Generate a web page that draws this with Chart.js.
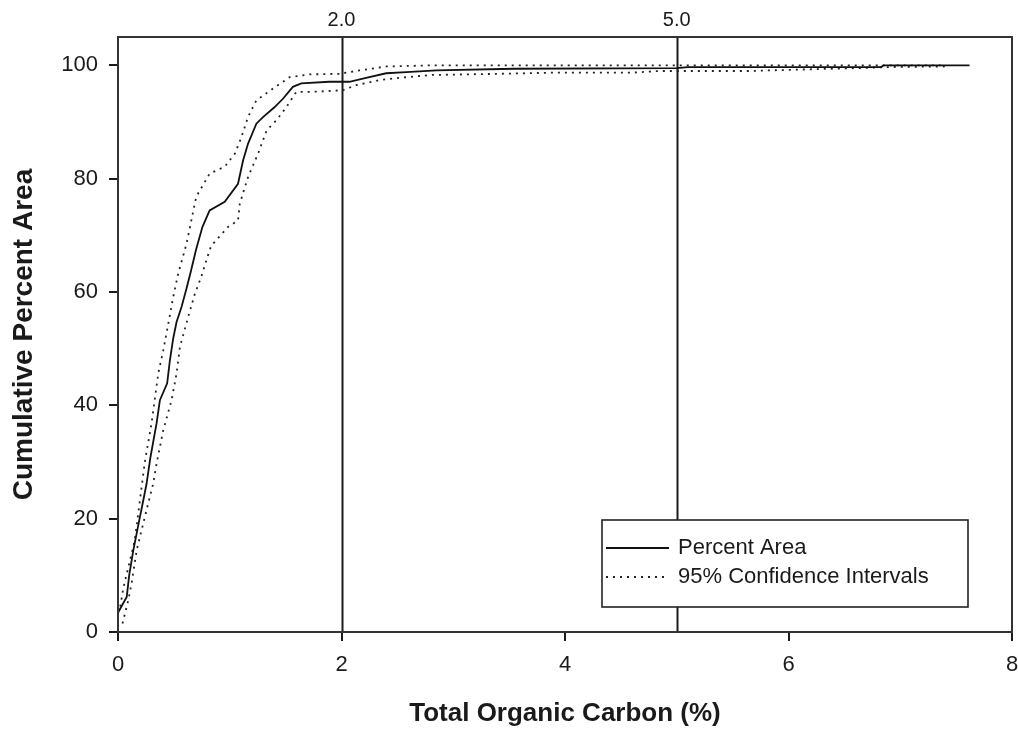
<!DOCTYPE html>
<html>
<head>
<meta charset="utf-8">
<title>Total Organic Carbon - Cumulative Percent Area</title>
<script src="https://cdn.jsdelivr.net/npm/chart.js@4.4.1/dist/chart.umd.min.js"></script>
<style>
  html, body { margin: 0; padding: 0; background: #fff; }
  #wrap { width: 1018px; height: 736px; }
</style>
</head>
<body>
<div id="wrap"><canvas id="tocChart" width="1018" height="736"></canvas></div>
<script>
// Cumulative distribution of total organic carbon (%)
const tocMain = [0, 0.078, 0.10, 0.137, 0.19, 0.226, 0.256, 0.29, 0.345, 0.375, 0.44, 0.464, 0.494, 0.524,
  0.569, 0.613, 0.65, 0.70, 0.756, 0.82, 0.955, 1.074, 1.119, 1.164, 1.238, 1.30, 1.40, 1.476, 1.565, 1.64,
  1.89, 2.07, 2.22, 2.40, 2.58, 2.85, 3.54, 5.0, 5.1, 6.83, 6.85, 7.62];
const pctMain = [3.4, 6.2, 10, 14.4, 19.7, 23.2, 26.2, 30.8, 36.8, 40.9, 43.9, 47.9, 51.8, 54.7,
  57.4, 60.6, 63.5, 67.6, 71.5, 74.4, 75.9, 79.1, 83.2, 86.2, 89.7, 90.9, 92.6, 94.1, 96.2, 96.8,
  97.1, 97.1, 97.8, 98.6, 98.8, 99.1, 99.4, 99.5, 99.7, 99.7, 100, 100];

const tocUpper = [0.02, 0.047, 0.15, 0.196, 0.24, 0.30, 0.36, 0.405, 0.45, 0.494, 0.538, 0.613, 0.70, 0.82,
  0.955, 1.045, 1.104, 1.164, 1.238, 1.387, 1.536, 1.714, 1.98, 2.16, 2.40, 2.82, 5.0, 7.4];
const pctUpper = [4.5, 7.7, 16.2, 23.2, 30.0, 36.8, 45.6, 49.7, 54.4, 59.1, 63.2, 68.5, 76.8, 80.9,
  82.1, 84.4, 87.3, 90.9, 93.8, 95.9, 97.9, 98.4, 98.5, 99.1, 99.8, 100, 100, 100];

const tocLower = [0.04, 0.092, 0.122, 0.167, 0.24, 0.315, 0.345, 0.405, 0.479, 0.524, 0.554, 0.628, 0.688,
  0.747, 0.82, 0.836, 0.985, 1.074, 1.09, 1.164, 1.253, 1.33, 1.417, 1.506, 1.595, 1.714, 2.01, 2.13, 2.34,
  2.52, 2.81, 3.41, 3.86, 4.6, 4.84, 5.64, 6.38, 6.6, 6.89, 7.4];
const pctLower = [1.5, 5.6, 8.6, 14.4, 20.3, 26.2, 29.7, 35.6, 40.9, 45.6, 50.3, 55.6, 59.7,
  62.8, 67.4, 68.2, 71.5, 72.6, 75.6, 80.3, 84.4, 88.5, 90.3, 92.6, 95.3, 95.3, 95.6, 96.5, 97.4,
  97.8, 98.3, 98.5, 98.7, 98.7, 99.0, 99.0, 99.4, 99.5, 99.7, 99.8];

// threshold lines and their labels on the top axis
const refLines = [2, 5];
const refLabels = ["2.0", "5.0"];

const xTicks = [0, 2, 4, 6, 8];
const yTicks = [0, 20, 40, 60, 80, 100];

const FONT = "'Liberation Sans', Arial, sans-serif";
const INK = "#1a1a1a";

function toPoints(xs, ys) {
  return xs.map((x, i) => ({ x: x, y: ys[i] }));
}

// box round the plot, the threshold lines and the legend
const framePlugin = {
  id: "frame",
  beforeDatasetsDraw(chart) {
    const { ctx, chartArea: a, scales } = chart;
    ctx.save();
    ctx.strokeStyle = INK;
    ctx.lineWidth = 2;
    refLines.forEach((v) => {
      const px = Math.round(scales.x.getPixelForValue(v)) + 0.5;
      ctx.beginPath();
      ctx.moveTo(px, a.top);
      ctx.lineTo(px, a.bottom);
      ctx.stroke();
    });
    ctx.restore();
  },
  afterDraw(chart) {
    const { ctx, chartArea: a } = chart;
    ctx.save();
    ctx.strokeStyle = "#333";
    ctx.lineWidth = 2;
    ctx.strokeRect(a.left, a.top, a.right - a.left, a.bottom - a.top);

    // legend
    const bw = 366, bh = 87;
    const bx = a.right - 44 - bw, by = a.bottom - 25 - bh;
    ctx.fillStyle = "#fff";
    ctx.fillRect(bx, by, bw, bh);
    ctx.lineWidth = 1.6;
    ctx.strokeStyle = "#222";
    ctx.strokeRect(bx, by, bw, bh);

    const entries = chart.data.datasets.filter((d) => d.legend);
    entries.forEach((d, i) => {
      const y = by + 28 + i * 29;
      ctx.beginPath();
      ctx.strokeStyle = d.borderColor;
      ctx.lineWidth = d.borderWidth;
      ctx.setLineDash(d.borderDash || []);
      ctx.moveTo(bx + 4, y);
      ctx.lineTo(bx + 67, y);
      ctx.stroke();
      ctx.setLineDash([]);
      ctx.fillStyle = INK;
      ctx.font = "22px " + FONT;
      ctx.textBaseline = "middle";
      ctx.fillText(d.label, bx + 76, y);
    });
    ctx.restore();
  }
};

const ctx = document.getElementById("tocChart").getContext("2d");
new Chart(ctx, {
  type: "scatter",
  data: {
    datasets: [
      {
        label: "Percent Area",
        legend: true,
        data: toPoints(tocMain, pctMain),
        showLine: true,
        borderColor: "#111",
        borderWidth: 1.8,
        pointRadius: 0,
        tension: 0
      },
      {
        label: "95% Confidence Intervals",
        legend: true,
        data: toPoints(tocUpper, pctUpper),
        showLine: true,
        borderColor: "#222",
        borderWidth: 1.8,
        borderDash: [2, 5],
        pointRadius: 0,
        tension: 0
      },
      {
        label: "lower",
        data: toPoints(tocLower, pctLower),
        showLine: true,
        borderColor: "#222",
        borderWidth: 1.8,
        borderDash: [2, 5],
        pointRadius: 0,
        tension: 0
      }
    ]
  },
  options: {
    responsive: false,
    animation: false,
    devicePixelRatio: 1,
    layout: { padding: { left: 0, right: 6, top: 0, bottom: 0 } },
    plugins: {
      legend: { display: false },
      tooltip: { enabled: false }
    },
    scales: {
      x: {
        type: "linear",
        position: "bottom",
        min: 0,
        max: 8,
        afterBuildTicks: (scale) => { scale.ticks = xTicks.map((v) => ({ value: v })); },
        afterFit: (scale) => {
          scale.height = 104;
          scale.paddingLeft = 0;
          scale.paddingRight = 0;
        },
        grid: { display: true, drawOnChartArea: false, tickLength: 9, color: INK, lineWidth: 2 },
        border: { display: false },
        ticks: { color: INK, font: { family: FONT, size: 22 }, padding: 11, maxRotation: 0 },
        title: {
          display: true,
          text: "Total Organic Carbon (%)",
          color: INK,
          font: { family: FONT, size: 26, weight: "bold" },
          padding: { top: 0, bottom: 7 }
        }
      },
      x2: {
        type: "linear",
        position: "top",
        min: 0,
        max: 8,
        afterBuildTicks: (scale) => { scale.ticks = refLines.map((v) => ({ value: v })); },
        afterFit: (scale) => {
          scale.height = 37;
          scale.paddingLeft = 0;
          scale.paddingRight = 0;
        },
        grid: { display: false, drawTicks: false, tickLength: 0 },
        border: { display: false },
        ticks: {
          color: INK,
          font: { family: FONT, size: 20 },
          padding: 5,
          maxRotation: 0,
          callback: (v) => refLabels[refLines.indexOf(v)]
        }
      },
      y: {
        type: "linear",
        min: 0,
        max: 105,
        afterBuildTicks: (scale) => { scale.ticks = yTicks.map((v) => ({ value: v })); },
        afterFit: (scale) => { scale.width = 118; },
        grid: { display: true, drawOnChartArea: false, tickLength: 9, color: INK, lineWidth: 2 },
        border: { display: false },
        ticks: { color: INK, font: { family: FONT, size: 22 }, padding: 11 },
        title: {
          display: true,
          text: "Cumulative Percent Area",
          color: INK,
          font: { family: FONT, size: 28, weight: "bold" },
          padding: { top: 7, bottom: 0 }
        }
      }
    }
  },
  plugins: [framePlugin]
});
</script>
</body>
</html>
